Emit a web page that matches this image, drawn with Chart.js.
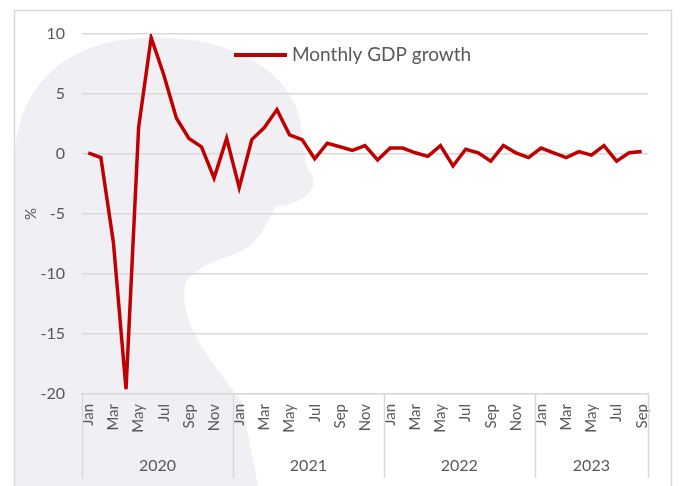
<!DOCTYPE html>
<html>
<head>
<meta charset="utf-8">
<script src="https://cdn.jsdelivr.net/npm/chart.js@4"></script>
<style>
  html, body { margin: 0; padding: 0; background: #fff; }
  #wrap { width: 682px; height: 486px; }
</style>
</head>
<body>
<div id="wrap"><canvas id="gdp"></canvas></div>
<script>
const years = ['2020', '2021', '2022', '2023'];
const months = ['Jan', 'Feb', 'Mar', 'Apr', 'May', 'Jun', 'Jul', 'Aug', 'Sep', 'Oct', 'Nov', 'Dec'];
const growth = [
  0.1, -0.3, -7.4, -19.6, 2.2, 9.7, 6.6, 3.0, 1.3, 0.6, -2.0, 1.3,
  -2.8, 1.2, 2.2, 3.7, 1.6, 1.2, -0.4, 0.9, 0.6, 0.3, 0.7, -0.5,
  0.5, 0.5, 0.1, -0.2, 0.7, -1.0, 0.4, 0.1, -0.6, 0.7, 0.1, -0.3,
  0.5, 0.1, -0.3, 0.2, -0.1, 0.7, -0.6, 0.1, 0.2
];

// month labels: Jan 2020 .. Sep 2023
const labels = growth.map((v, i) => months[i % 12]);

const txt = '#595959';
const grid = '#d9d9d9';

// faint watermark behind the plot
const watermark = {
  id: 'watermark',
  beforeDraw(chart) {
    const ctx = chart.ctx;
    ctx.save();
    ctx.fillStyle = '#f0f0f4';
    ctx.beginPath();
    ctx.moveTo(15, 486);
    ctx.lineTo(15, 150);
    ctx.bezierCurveTo(22, 80, 70, 42, 140, 38);
    ctx.bezierCurveTo(220, 34, 280, 62, 298, 112);
    ctx.bezierCurveTo(306, 140, 300, 160, 312, 175);
    ctx.bezierCurveTo(320, 195, 292, 206, 276, 206);
    ctx.bezierCurveTo(268, 222, 258, 242, 244, 250);
    ctx.bezierCurveTo(228, 258, 200, 262, 186, 282);
    ctx.bezierCurveTo(176, 322, 212, 362, 242, 402);
    ctx.lineTo(258, 486);
    ctx.closePath();
    ctx.fill();
    ctx.restore();
  }
};

// border, legend and the year row under the months
const extras = {
  id: 'extras',
  afterDraw(chart) {
    const ctx = chart.ctx;
    const x = chart.scales.x;
    const area = chart.chartArea;
    ctx.save();
    ctx.strokeStyle = grid;
    ctx.lineWidth = 1.5;
    ctx.strokeRect(14.5, 10.5, 657, 500);

    // year separators + labels
    const cuts = [area.left];
    for (let k = 1; k < years.length; k++) {
      const i = k * 12;
      cuts.push((x.getPixelForValue(i - 1) + x.getPixelForValue(i)) / 2);
    }
    cuts.push(area.right);
    ctx.beginPath();
    cuts.forEach(c => {
      ctx.moveTo(Math.round(c) + 0.5, area.bottom);
      ctx.lineTo(Math.round(c) + 0.5, 478);
    });
    ctx.stroke();
    ctx.fillStyle = txt;
    ctx.font = '16px Lato';
    ctx.textAlign = 'center';
    ctx.textBaseline = 'middle';
    years.forEach((y, k) => ctx.fillText(y, (cuts[k] + cuts[k + 1]) / 2, 466));

    // legend
    const ds = chart.data.datasets[0];
    ctx.strokeStyle = ds.borderColor;
    ctx.lineWidth = 4;
    ctx.beginPath();
    ctx.moveTo(234, 55);
    ctx.lineTo(287, 55);
    ctx.stroke();
    ctx.font = '19px Lato';
    ctx.textAlign = 'left';
    ctx.fillText(ds.label, 292, 55);
    ctx.restore();
  }
};

new Chart(document.getElementById('gdp'), {
  type: 'line',
  data: {
    labels: labels,
    datasets: [{
      label: 'Monthly GDP growth',
      data: growth,
      borderColor: '#c00000',
      backgroundColor: '#c00000',
      borderWidth: 3.5,
      pointRadius: 0,
      tension: 0,
      fill: false
    }]
  },
  options: {
    responsive: true,
    maintainAspectRatio: false,
    animation: false,
    layout: { padding: { top: 34, right: 34, left: 0, bottom: 0 } },
    plugins: {
      legend: { display: false },
      tooltip: { enabled: false }
    },
    scales: {
      x: {
        offset: true,
        grid: { display: false, drawTicks: false },
        border: { display: true, color: grid, width: 1.5 },
        ticks: {
          autoSkip: false,
          minRotation: 90,
          maxRotation: 90,
          padding: 10,
          color: txt,
          font: { family: 'Lato', size: 15 },
          callback: (v, i) => (i % 2 === 0 ? labels[i] : '')
        },
        afterFit: s => { s.height = 92; }
      },
      y: {
        min: -20,
        max: 10,
        grid: { color: grid, lineWidth: 1.5, drawTicks: false },
        border: { display: false },
        ticks: {
          stepSize: 5,
          padding: 17,
          color: txt,
          font: { family: 'Lato', size: 16 }
        },
        title: {
          display: true,
          text: '%',
          color: txt,
          font: { family: 'Lato', size: 15 },
          padding: { top: 22, bottom: 0 }
        },
        afterFit: s => { s.width = 82; }
      }
    }
  },
  plugins: [watermark, extras]
});
</script>
</body>
</html>
